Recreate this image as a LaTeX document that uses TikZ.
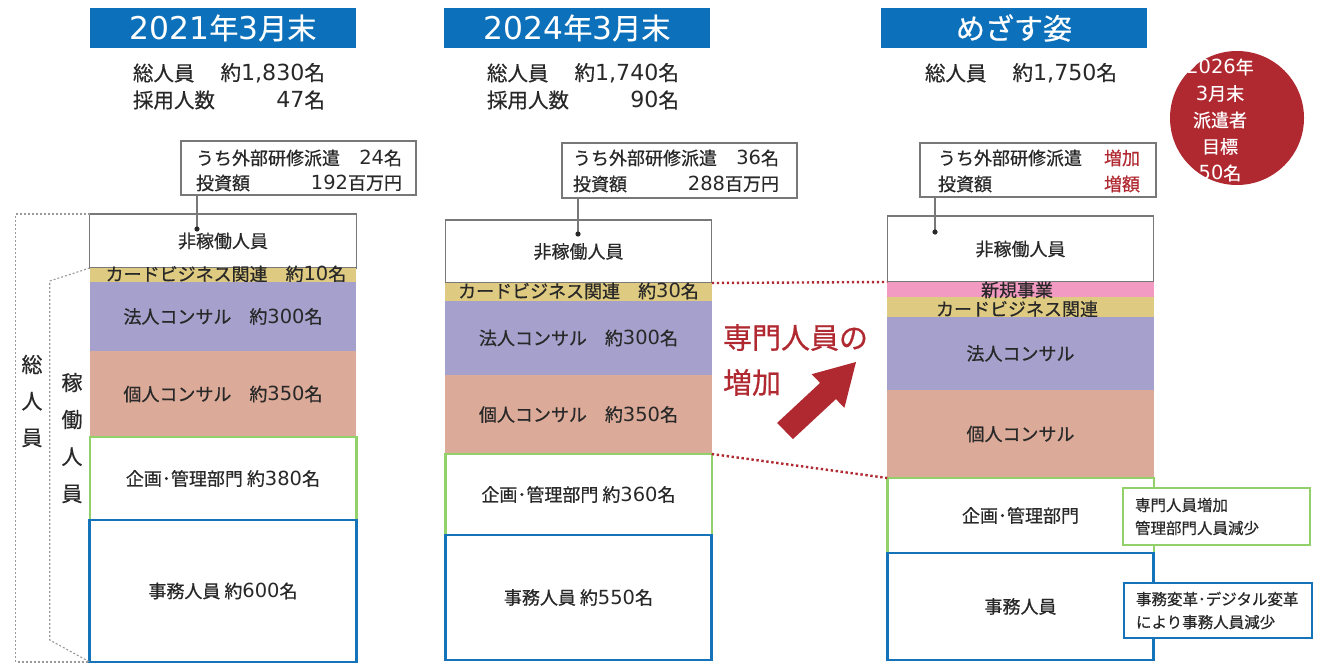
\documentclass[tikz,border=0pt]{standalone}
\usepackage{fontspec}
\setmainfont{Noto Sans CJK JP}[FakeBold=0.6]
\newfontfamily\numf{DejaVu Sans}[Scale=1.08]
\newcommand{\nm}[1]{{\numf #1}}
\definecolor{hdrblue}{RGB}{12,113,186}
\definecolor{lav}{RGB}{165,160,204}
\definecolor{salmon}{RGB}{219,170,152}
\definecolor{tan}{RGB}{222,202,128}
\definecolor{pinkband}{RGB}{242,154,193}
\definecolor{gborder}{RGB}{146,208,105}
\definecolor{bborder}{RGB}{20,115,185}
\definecolor{dred}{RGB}{176,40,48}
\definecolor{txt}{RGB}{40,40,40}
\definecolor{boxgray}{RGB}{120,120,120}
\newcommand{\myfs}[2]{\fontsize{#1}{#2}\selectfont}
\begin{document}
\begin{tikzpicture}[x=1pt,y=-1pt,
  every node/.style={text=txt,inner sep=0pt,outer sep=0pt},
  hdr/.style={fill=hdrblue,text=white,minimum width=266pt,minimum height=40pt,font=\myfs{29}{32}},
  sumtxt/.style={font=\myfs{20.5}{24}},
  infobox/.style={draw=boxgray,line width=1.2pt,fill=white},
  infotxt/.style={font=\myfs{18}{22}},
  seg/.style={minimum width=266.5pt,font=\myfs{18}{22}},
  nonbox/.style={seg,draw=boxgray,line width=1.2pt,fill=white},
  bandtxt/.style={font=\myfs{18}{22}},
  gbox/.style={seg,draw=gborder,line width=2.5pt,fill=white},
  bbox/.style={seg,draw=bborder,line width=2.8pt,fill=white},
  gdot/.style={draw=gray!80,line width=1.1pt,dash pattern=on 2pt off 2pt},
  rdot/.style={draw=dred,line width=2.4pt,dash pattern=on 2.4pt off 2.6pt},
  sidetxt/.style={align=left,font=\myfs{15.5}{23},inner xsep=12pt,anchor=west},
  vtxt/.style={align=center,font=\myfs{21}{36.5}},
  redtxt/.style={text=dred,align=left,font=\myfs{29}{45},anchor=west},
  circtxt/.style={text=white,align=center,font=\myfs{18}{26.5}},
  dotend/.style={fill=txt}
]
\useasboundingbox (0,0) rectangle (1322,666);

% ---------- headers ----------
\node[hdr] (h1) at (223,28) {\nm{2021}年\nm{3}月末};
\node[hdr] (h2) at (577,28) {\nm{2024}年\nm{3}月末};
\node[hdr] (h3) at (1014,28) {めざす姿};

% ---------- summaries ----------
\node[sumtxt,anchor=west] (s1a) at (133,73) {総人員};
\node[sumtxt,anchor=east] (s1b) at (325,73) {約\nm{1,830}名};
\node[sumtxt,anchor=west] (s1c) at (133,100) {採用人数};
\node[sumtxt,anchor=east] (s1d) at (325,100) {\nm{47}名};
\node[sumtxt,anchor=west] (s2a) at (487,73) {総人員};
\node[sumtxt,anchor=east] (s2b) at (679,73) {約\nm{1,740}名};
\node[sumtxt,anchor=west] (s2c) at (487,100) {採用人数};
\node[sumtxt,anchor=east] (s2d) at (679,100) {\nm{90}名};
\node[sumtxt,anchor=west] (s3a) at (925,73) {総人員};
\node[sumtxt,anchor=east] (s3b) at (1117,73) {約\nm{1,750}名};

% ---------- circle ----------
\node[circle,fill=dred,minimum size=134pt] (circ) at (1237,118) {};
\node[circtxt] (circt) at (1220,120) {\nm{2026}年\\\nm{3}月末\\派遣者\\目標\\\nm{50}名};

% ---------- info boxes ----------
\node[infobox,minimum width=235pt,minimum height=54pt] (i1) at (298.5,168) {};
\node[infotxt,anchor=west] (i1a) at (196,158) {うち外部研修派遣};
\node[infotxt,anchor=east] (i1b) at (402,158) {\nm{24}名};
\node[infotxt,anchor=west] (i1c) at (196,183) {投資額};
\node[infotxt,anchor=east] (i1d) at (402,183) {\nm{192}百万円};

\node[infobox,minimum width=235pt,minimum height=55pt] (i2) at (679.5,170.5) {};
\node[infotxt,anchor=west] (i2a) at (573,158) {うち外部研修派遣};
\node[infotxt,anchor=east] (i2b) at (779,158) {\nm{36}名};
\node[infotxt,anchor=west] (i2c) at (573,184) {投資額};
\node[infotxt,anchor=east] (i2d) at (779,184) {\nm{288}百万円};

\node[infobox,minimum width=236pt,minimum height=54pt] (i3) at (1038,170) {};
\node[infotxt,anchor=west] (i3a) at (938,158) {うち外部研修派遣};
\node[infotxt,anchor=east,text=dred] (i3b) at (1140,158) {増加};
\node[infotxt,anchor=west] (i3c) at (938,184) {投資額};
\node[infotxt,anchor=east,text=dred] (i3d) at (1140,184) {増額};

% ---------- column 1 stack ----------
\node[nonbox,minimum height=54pt] (a1) at (223,241) {非稼働人員};
\node[seg,fill=tan,minimum height=14pt] (a2) at (223,275) {};
\node[bandtxt] (a2t) at (226,274) {カードビジネス関連　約\nm{10}名};
\node[seg,fill=lav,minimum height=69pt] (a3) at (223,316.5) {法人コンサル　約\nm{300}名};
\node[seg,fill=salmon,minimum height=86pt] (a4) at (223,394) {個人コンサル　約\nm{350}名};
\node[gbox,minimum height=83pt] (a5) at (223,478.5) {企画･管理部門 約\nm{380}名};
\node[bbox,minimum height=142pt] (a6) at (223,591) {事務人員 約\nm{600}名};

% ---------- column 2 stack ----------
\node[nonbox,minimum height=63pt] (b1) at (578.5,251.5) {非稼働人員};
\node[seg,fill=tan,minimum height=18pt] (b2) at (578.5,292) {};
\node[bandtxt] (b2t) at (578.5,291) {カードビジネス関連　約\nm{30}名};
\node[seg,fill=lav,minimum height=74pt] (b3) at (578.5,338) {法人コンサル　約\nm{300}名};
\node[seg,fill=salmon,minimum height=79pt] (b4) at (578.5,414.5) {個人コンサル　約\nm{350}名};
\node[gbox,minimum height=81pt] (b5) at (578.5,494.5) {企画･管理部門 約\nm{360}名};
\node[bbox,minimum height=125pt] (b6) at (578.5,597.5) {事務人員 約\nm{550}名};

% ---------- column 3 stack ----------
\node[nonbox,minimum height=66pt] (c1) at (1020.5,249) {非稼働人員};
\node[seg,fill=pinkband,minimum height=15pt] (c0) at (1020.5,289.5) {};
\node[seg,fill=tan,minimum height=20pt] (c2) at (1020.5,307) {};
\node[bandtxt] (c0t) at (1017,290) {新規事業};
\node[bandtxt] (c2t) at (1017,309) {カードビジネス関連};
\node[seg,fill=lav,minimum height=73pt] (c3) at (1020.5,353.5) {法人コンサル};
\node[seg,fill=salmon,minimum height=88pt] (c4) at (1020.5,434) {個人コンサル};
\node[gbox,minimum height=75pt] (c5) at (1020.5,515.5) {企画･管理部門};
\node[bbox,minimum height=107pt] (c6) at (1020.5,606.5) {事務人員};

% ---------- side boxes ----------
\node[draw=gborder,line width=2pt,fill=white,minimum width=187pt,minimum height=57pt] (g1) at (1216.5,516.5) {};
\node[sidetxt] (g1t) at (g1.west) {専門人員増加\\管理部門人員減少};
\node[draw=bborder,line width=2pt,fill=white,minimum width=188pt,minimum height=55pt] (bl1) at (1218,610.5) {};
\node[sidetxt] (bl1t) at (bl1.west) {事務変革･デジタル変革\\により事務人員減少};

% ---------- connectors from info boxes ----------
\coordinate (d1) at (197,229);
\coordinate (d2) at (578,234);
\coordinate (d3) at (935,232);
\draw[boxgray,line width=1.2pt] (d1 |- i1.south) -- (d1);
\draw[boxgray,line width=1.2pt] (d2 |- i2.south) -- (d2);
\draw[boxgray,line width=1.2pt] (d3 |- i3.south) -- (d3);
\fill[dotend] (d1) circle (2.6);
\fill[dotend] (d2) circle (2.6);
\fill[dotend] (d3) circle (2.6);

% ---------- bracket (column 1) ----------
\draw[gdot] (a1.north west) -- ++(-74,0) |- (a6.south west);
\draw[gdot] (a2.north west) -- ++(-40,13) -- ++(0,359) -- (a6.south west);
\node[vtxt] (v1) at (32,401) {総\\人\\員};
\node[vtxt,font=\myfs{21}{37}] (v2) at (72,438) {稼\\働\\人\\員};

% ---------- red dotted connectors ----------
\draw[rdot] (b1.south east) -- (c1.south west);
\draw[rdot] (b5.north east) -- (c5.north west);

% ---------- red label and arrow ----------
\node[redtxt] (rt) at (723,360) {専門人員の\\増加};
\fill[dred] (777.1,422.9) -- (820.1,382.9) -- (811.6,374.2) -- (856,362) -- (844.4,407.8) -- (835.9,399.1) -- (792.9,439.1) -- cycle;
\end{tikzpicture}
\end{document}
